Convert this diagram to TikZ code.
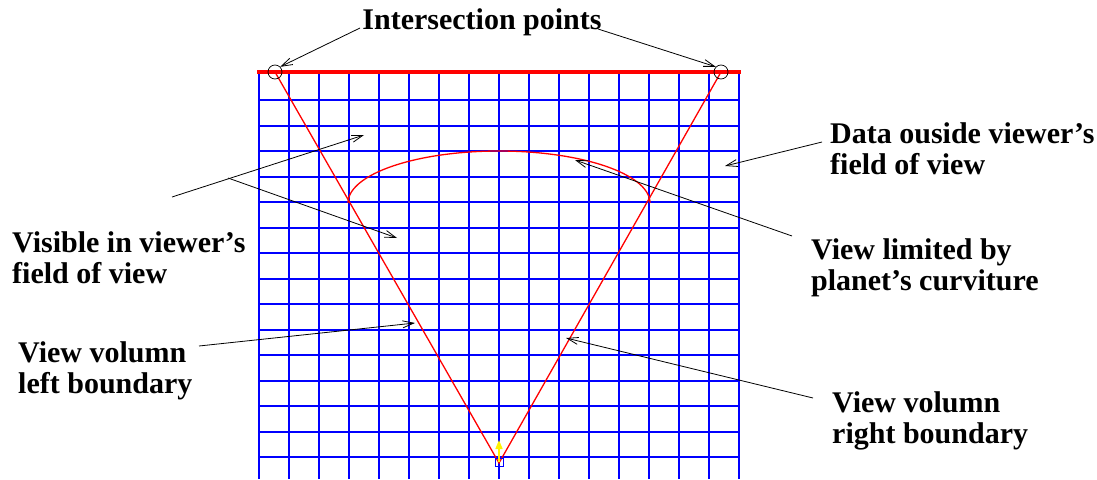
\documentclass[tikz,border=0pt]{standalone}
\usepackage{fontspec}
\setmainfont{Liberation Serif}
\usetikzlibrary{arrows.meta}
\newcommand{\twoline}[2]{\vtop{\baselineskip=31pt\hbox{#1}\hbox{#2}}}
\begin{document}
\begin{tikzpicture}[x=1pt,y=-1pt,
  gridline/.style={blue, line width=1.8pt},
  redline/.style={red, line width=1.3pt},
  lbl/.style={font=\bfseries\fontsize{30}{31}\selectfont, inner sep=0pt, anchor=base west},
  ptr/.style={black, line width=0.8pt, -{Straight Barb[length=11pt,width=7pt]}},
  ipcirc/.style={draw=black, circle, minimum size=14pt, inner sep=0pt, line width=0.7pt}]
\useasboundingbox (0,0) rectangle (1097,479);
% grid
\foreach \i in {0,...,16} \draw[gridline] ({259+30*\i},72) -- ({259+30*\i},479);
\foreach \j in {1,...,15} {
  \pgfmathsetmacro\yy{round(74.5+25.5*\j)}
  \draw[gridline] (258.1,\yy) -- (739.9,\yy);
}
% key points
\coordinate (pL) at (275,72);
\coordinate (pR) at (721,72);
\coordinate (apex) at (499,463);
% view volume boundaries
\draw[redline] (pL) -- (apex) -- (pR);
% horizon curve
\draw[redline] plot[domain=180:0, samples=80] ({499+151*cos(\x)},{203-52*sin(\x)});
% top boundary
\draw[red, line width=4pt] (257,72) -- (741,72);
% intersection circles
\node[ipcirc] (cL) at (pL) {};
\node[ipcirc] (cR) at (pR) {};
% viewer
\node[draw=blue, line width=1pt, minimum size=8pt, inner sep=0pt] (eye) at (499,462) {};
\coordinate (eyetop) at (499,440);
\draw[yellow, line width=1.6pt, -{Triangle[length=9pt,width=7pt]}] (eye.center) -- (eyetop);
% labels
\node[lbl, anchor=base] (ip) at (482,29) {Intersection points};
\node[lbl] (data) at (830,143) {\twoline{Data ouside viewer's}{field of view}};
\node[lbl] (vis) at (12,252) {\twoline{Visible in viewer's}{field of view}};
\node[lbl] (limit) at (811,259) {\twoline{View limited by}{planet's curviture}};
\node[lbl] (vleft) at (18,362) {\twoline{View volumn}{left boundary}};
\node[lbl] (vright) at (832,412) {\twoline{View volumn}{right boundary}};
% pointer ends
\coordinate (ipA) at (360,28);
\coordinate (ipB) at (598,29);
\coordinate (visA) at (172,197);
\coordinate (visB) at (228,178);
\coordinate (visT1) at (364,135);
\coordinate (visT2) at (397,238);
\coordinate (dataA) at (822,142);
\coordinate (dataT) at (725,166);
\coordinate (limA) at (792,236);
\coordinate (limT) at (575,160);
\coordinate (vlA) at (199,346);
\coordinate (vlT) at (415,323);
\coordinate (vrA) at (813,398);
\coordinate (vrT) at (566,338);
% pointers
\draw[ptr] (ipA) -- (cL.north east);
\draw[ptr] (ipB) -- (cR.north west);
\draw[ptr] (visA) -- (visT1);
\draw[ptr] (visB) -- (visT2);
\draw[ptr] (dataA) -- (dataT);
\draw[ptr] (limA) -- (limT);
\draw[ptr] (vlA) -- (vlT);
\draw[ptr] (vrA) -- (vrT);
\end{tikzpicture}
\end{document}
